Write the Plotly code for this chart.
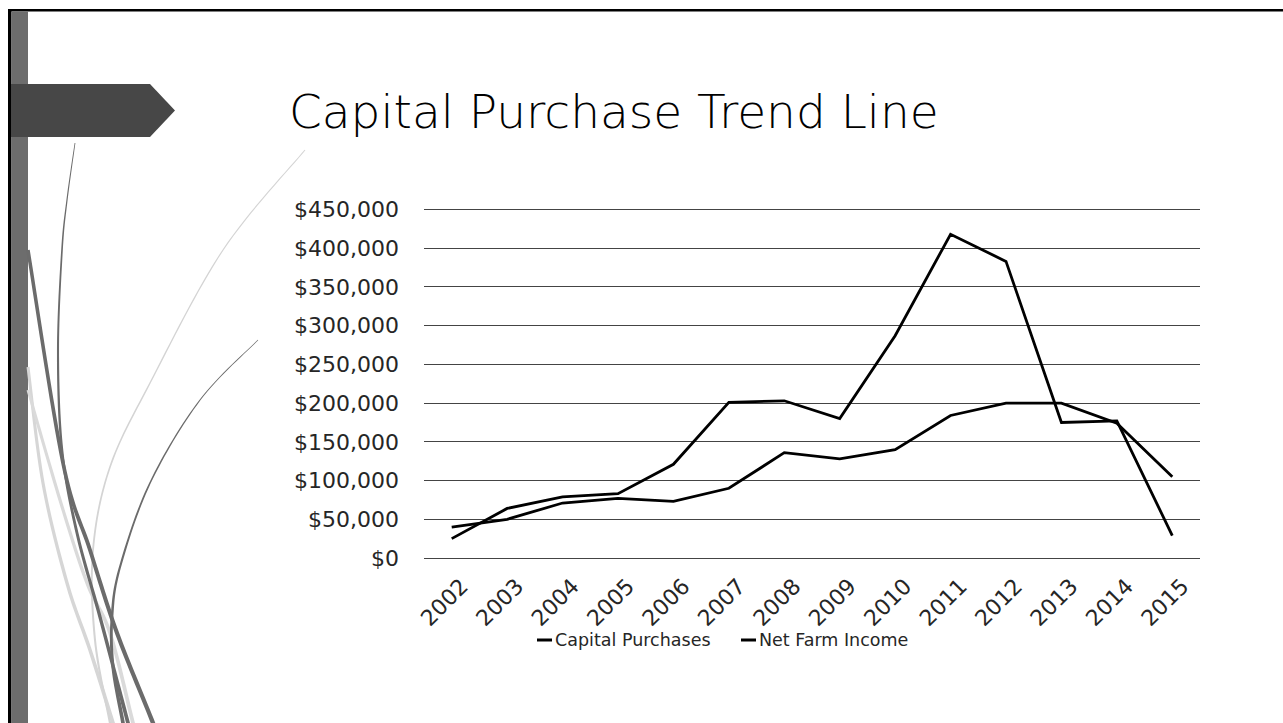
import math
import plotly.graph_objects as go

# ---- data -------------------------------------------------------------
years = ["2002", "2003", "2004", "2005", "2006", "2007", "2008",
         "2009", "2010", "2011", "2012", "2013", "2014", "2015"]
capital_purchases = [40000, 50000, 71000, 77000, 73000, 90000, 136000,
                     128000, 140000, 184000, 200000, 200000, 174000, 105000]
net_farm_income = [25000, 64000, 79000, 83000, 121000, 201000, 203000,
                   180000, 287000, 418000, 383000, 175000, 177000, 29000]
y_ticks = [0, 50000, 100000, 150000, 200000, 250000, 300000, 350000, 400000, 450000]
y_labels = ["$0", "$50,000", "$100,000", "$150,000", "$200,000",
            "$250,000", "$300,000", "$350,000", "$400,000", "$450,000"]
series_names = ["Capital Purchases", "Net Farm Income"]

W, H = 1283, 723
FONT = "DejaVu Sans"


def px(x):
    return x / W


def py(y):
    return 1 - y / H


def catmull(pts, steps=16):
    P = [pts[0]] + pts + [pts[-1]]
    out = []
    for i in range(1, len(P) - 2):
        p0, p1, p2, p3 = P[i - 1], P[i], P[i + 1], P[i + 2]
        for k in range(steps):
            t = k / steps
            t2, t3 = t * t, t * t * t
            pt = []
            for d in range(2):
                pt.append(0.5 * (2 * p1[d] + (-p0[d] + p2[d]) * t
                                 + (2 * p0[d] - 5 * p1[d] + 4 * p2[d] - p3[d]) * t2
                                 + (-p0[d] + 3 * p1[d] - 3 * p2[d] + p3[d]) * t3))
            out.append(tuple(pt))
    out.append(pts[-1])
    return out


def ribbon(pts, w0, w1, color):
    s = catmull(pts)
    n = len(s)
    left, right = [], []
    for i, (x, y) in enumerate(s):
        a, b = s[max(i - 1, 0)], s[min(i + 1, n - 1)]
        dx, dy = b[0] - a[0], b[1] - a[1]
        L = math.hypot(dx, dy) or 1.0
        nx, ny = -dy / L, dx / L
        h = (w0 + (w1 - w0) * i / (n - 1)) / 2
        left.append((x + nx * h, y + ny * h))
        right.append((x - nx * h, y - ny * h))
    poly = left + right[::-1]
    path = "M " + " L ".join(f"{px(x):.5f},{py(y):.5f}" for x, y in poly) + " Z"
    return dict(type="path", xref="paper", yref="paper", path=path,
                fillcolor=color, line=dict(width=0), layer="below")


def rect(x0, y0, x1, y1, color):
    return dict(type="rect", xref="paper", yref="paper",
                x0=px(x0), x1=px(x1), y0=py(y1), y1=py(y0),
                fillcolor=color, line=dict(width=0), layer="below")


def poly(points, color):
    path = "M " + " L ".join(f"{px(x):.5f},{py(y):.5f}" for x, y in points) + " Z"
    return dict(type="path", xref="paper", yref="paper", path=path,
                fillcolor=color, line=dict(width=0), layer="below")


# ---- slide decoration -------------------------------------------------
shapes = [
    rect(8, 9, W, 11.5, "#000000"),
    rect(8, 9, 11.5, H, "#000000"),
    rect(11.5, 11.5, 28, H, "#6d6d6d"),
    # light hatched wisps
    ribbon([(28, 367), (43, 483), (67, 583), (90, 650), (113, 723), (118, 740)], 3, 4, "#d6d6d6"),
    ribbon([(28, 390), (60, 500), (87, 583), (110, 633), (133, 723), (138, 740)], 3, 4, "#dadada"),
    ribbon([(305, 150), (223, 250), (150, 383), (110, 467), (93, 550), (95, 640), (110, 723), (113, 740)], 1, 2.5, "#d4d4d4"),
    # dark wisps
    ribbon([(28, 250), (63, 463), (90, 550), (117, 633), (153, 723), (158, 740)], 3.5, 4.5, "#6b6b6b"),
    ribbon([(75, 143), (67, 200), (62, 250), (58, 350), (62, 450), (77, 533), (100, 617), (128, 723), (132, 740)], 0.8, 4.2, "#6b6b6b"),
    ribbon([(258, 340), (200, 400), (150, 483), (120, 567), (112, 617), (113, 667), (123, 723), (125, 740)], 0.6, 4.2, "#6b6b6b"),
    # title marker arrow
    poly([(11, 84), (150, 84), (175, 110.5), (150, 137), (11, 137)], "#474747"),
]

# ---- chart ------------------------------------------------------------
LINE_W = 2.8
fig = go.Figure()
fig.add_trace(go.Scatter(x=years, y=capital_purchases, name=series_names[0],
                         mode="lines", line=dict(color="#000000", width=LINE_W),
                         showlegend=False))
fig.add_trace(go.Scatter(x=years, y=net_farm_income, name=series_names[1],
                         mode="lines", line=dict(color="#000000", width=LINE_W),
                         showlegend=False))

# compact legend below the category labels: short line key + label
annotations = [dict(text="Capital Purchase Trend Line", xref="paper", yref="paper",
                    x=px(287), y=py(111), xanchor="left", yanchor="middle",
                    showarrow=False,
                    font=dict(size=47, color="#000000", family=FONT, weight=300))]
legend_y = 640
for key_x, name in zip([537, 741], series_names):
    shapes.append(dict(type="line", xref="paper", yref="paper",
                       x0=px(key_x), x1=px(key_x + 15), y0=py(legend_y), y1=py(legend_y),
                       line=dict(color="#000000", width=3)))
    annotations.append(dict(text=name, xref="paper", yref="paper",
                            x=px(key_x + 16), y=py(legend_y), xanchor="left",
                            yanchor="middle", showarrow=False,
                            font=dict(size=17.5, color="#262626", family=FONT)))

# value axis: $0 sits at y=558px, $450,000 at y=209.5px; range is padded a
# little at the top so the last gridline is not clipped at the plot edge
y_top = 452000
unit = (558 - 209.5) / 450000
top_px = 558 - y_top * unit

fig.update_layout(
    width=W, height=H,
    margin=dict(l=0, r=0, t=0, b=0, autoexpand=False),
    paper_bgcolor="white", plot_bgcolor="white",
    font=dict(family=FONT, color="#262626"),
    shapes=shapes,
    annotations=annotations,
    showlegend=False,
    xaxis=dict(type="category", domain=[px(424), px(1200)], range=[-0.5, 13.5],
               tickangle=-45, tickfont=dict(size=22), showgrid=False,
               showline=False, zeroline=False, ticks="", ticklabelstandoff=10,
               ticklabelshift=10, automargin=False, fixedrange=True),
    yaxis=dict(domain=[py(558), py(top_px)], range=[0, y_top],
               tickmode="array", tickvals=y_ticks, ticktext=y_labels,
               tickfont=dict(size=22),
               showgrid=True, gridcolor="#444444", gridwidth=1,
               zeroline=True, zerolinecolor="#444444", zerolinewidth=1,
               showline=False, ticks="", ticklabelstandoff=24,
               automargin=False, fixedrange=True),
)

fig.write_html("out.html")
